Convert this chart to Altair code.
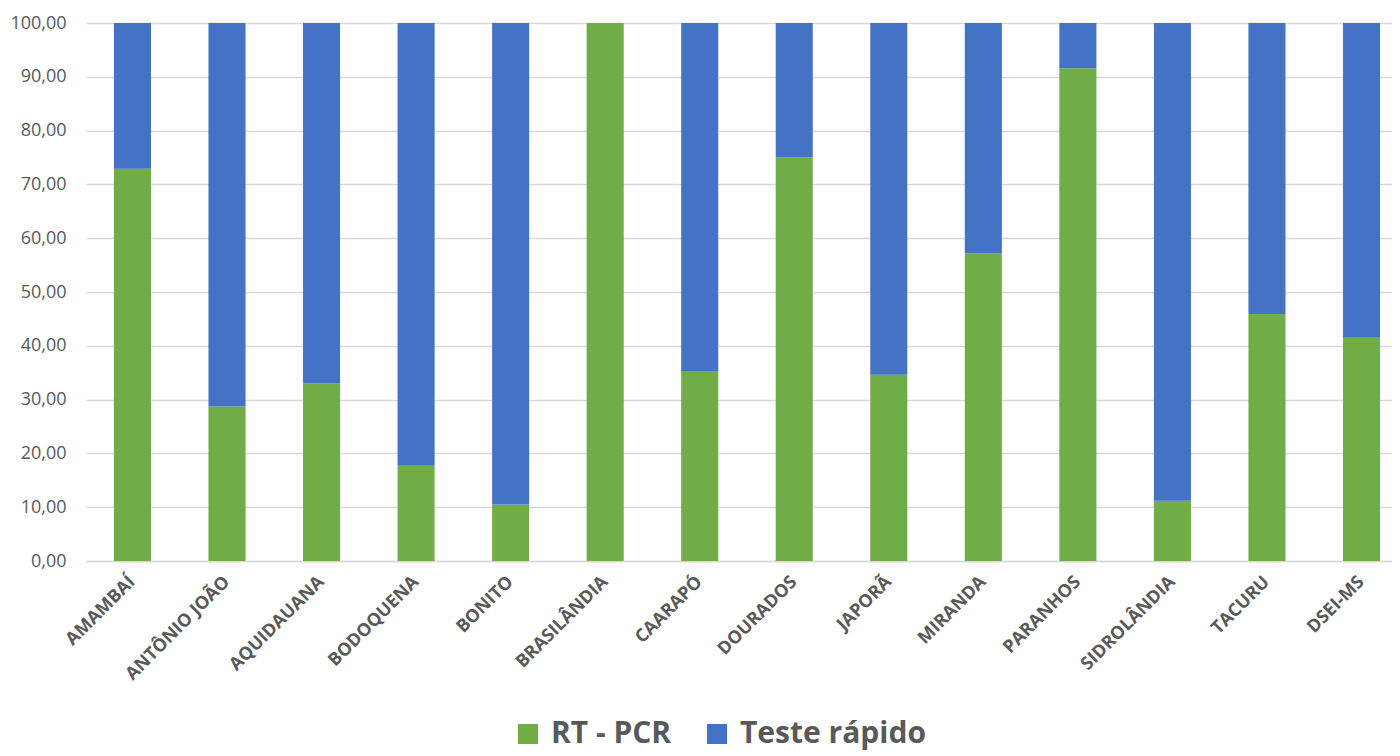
import altair as alt
import pandas as pd

municipios = ["AMAMBAÍ", "ANTÔNIO JOÃO", "AQUIDAUANA", "BODOQUENA", "BONITO",
              "BRASILÂNDIA", "CAARAPÓ", "DOURADOS", "JAPORÃ", "MIRANDA",
              "PARANHOS", "SIDROLÂNDIA", "TACURU", "DSEI-MS"]
rt_pcr = [72.9, 28.7, 33.0, 17.7, 10.5, 100.0, 35.3, 75.0, 34.6, 57.2, 91.6, 11.2, 45.9, 41.5]
teste_rapido = [27.1, 71.3, 67.0, 82.3, 89.5, 0.0, 64.7, 25.0, 65.4, 42.8, 8.4, 88.8, 54.1, 58.5]
series = ["RT - PCR", "Teste rápido"]
colors = ["#70AD47", "#4472C4"]
y_ticks = [0, 10, 20, 30, 40, 50, 60, 70, 80, 90, 100]

rows = []
for i, m in enumerate(municipios):
    rows.append({"Municipio": m, "Serie": series[0], "Valor": rt_pcr[i], "ordem": 0})
    rows.append({"Municipio": m, "Serie": series[1], "Valor": teste_rapido[i], "ordem": 1})
df = pd.DataFrame(rows)

chart = alt.Chart(df).mark_bar().encode(
    x=alt.X("Municipio:N", sort=municipios, title=None,
            scale=alt.Scale(paddingInner=0.608, paddingOuter=0.211, align=0.7),
            axis=alt.Axis(labelAngle=-45, labelAlign="right", labelBaseline="middle",
                          labelFontWeight="bold", labelFont="Open Sans", labelFontSize=18,
                          labelColor="#595959", ticks=False, domainColor="#D9D9D9",
                          domainWidth=1.3, labelPadding=18, grid=False, labelLimit=0)),
    y=alt.Y("Valor:Q", stack="zero", title=None,
            scale=alt.Scale(domain=[0, 100], nice=False),
            axis=alt.Axis(values=y_ticks,
                          labelExpr="replace(format(datum.value, '.2f'), '.', ',')",
                          domain=False, ticks=False, gridColor="#D9D9D9", gridWidth=1.3,
                          labelPadding=20, labelFontSize=18, labelColor="#595959",
                          labelFont="Open Sans")),
    color=alt.Color("Serie:N", scale=alt.Scale(domain=series, range=colors),
                    legend=alt.Legend(title=None, orient="none", legendX=427, legendY=696,
                                      direction="horizontal", symbolType="square",
                                      symbolSize=400, labelFontSize=30, labelFontWeight="bold",
                                      labelFont="Open Sans", labelColor="#595959",
                                      columnPadding=30, labelOffset=8, labelLimit=0,
                                      symbolStrokeWidth=0, padding=0)),
    order=alt.Order("ordem:Q"),
).properties(
    width=1306, height=538,
    padding={"left": 78, "top": 15, "right": 0, "bottom": 195},
    autosize=alt.AutoSizeParams(type="none"),
).configure_view(stroke=None)

chart.save("out.html", embed_options={"renderer": "svg", "actions": False})
